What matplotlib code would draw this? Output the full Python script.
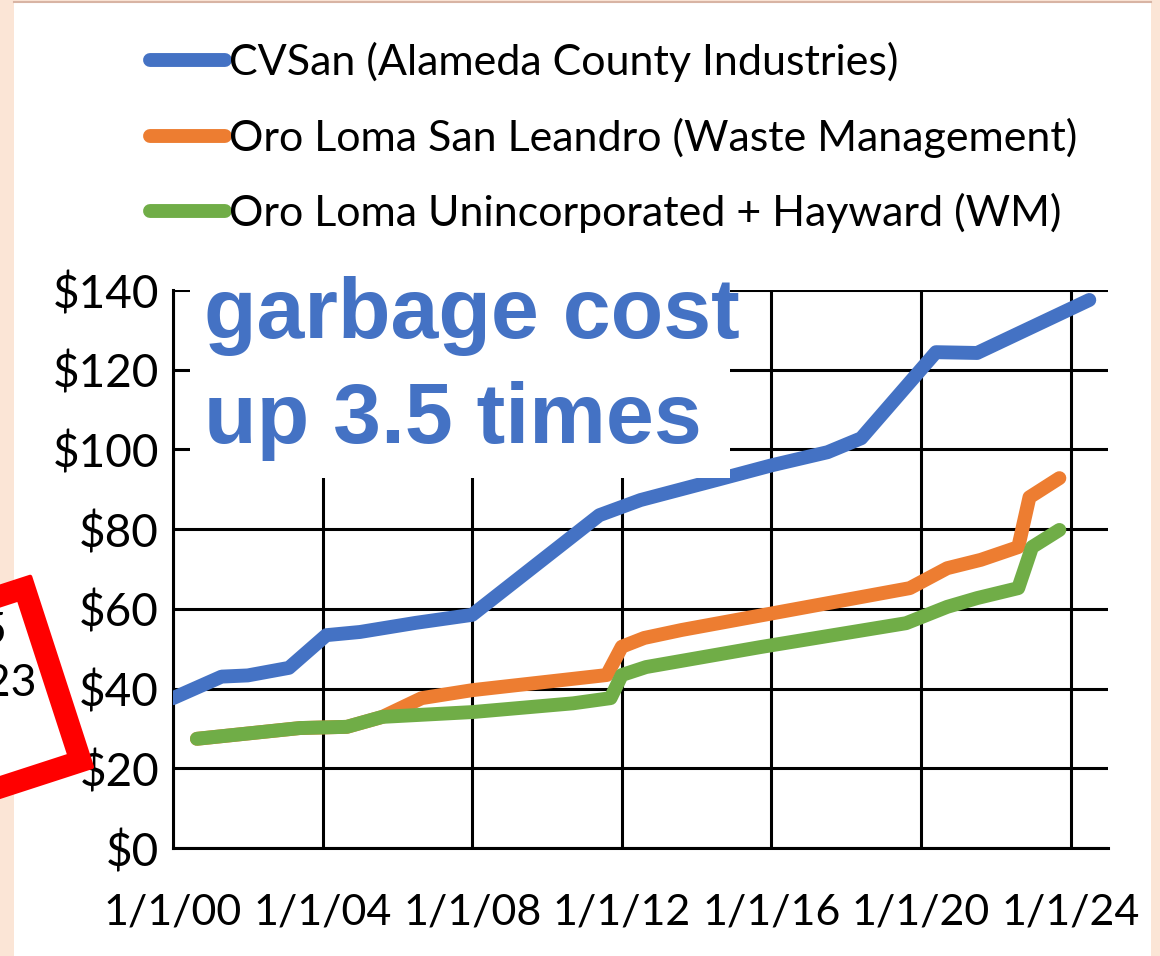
import numpy as np
import matplotlib
matplotlib.use("Agg")
import matplotlib.pyplot as plt
from matplotlib.patches import Rectangle, Polygon
from matplotlib.lines import Line2D

# data (decimal years)
cvsan_x = [2000.0, 2001.3, 2002.0, 2003.1, 2004.1, 2005.0, 2006.5, 2008.0, 2011.4,
           2012.5, 2014.6, 2016.0, 2017.5, 2018.4, 2020.4, 2021.5, 2024.5]
cvsan_y = [37.6, 43.0, 43.3, 45.2, 53.4, 54.2, 56.5, 58.5, 83.5,
           87.3, 92.5, 96.0, 99.3, 102.8, 124.4, 124.2, 137.5]

sl_x = [2000.64, 2003.4, 2004.65, 2005.6, 2006.65, 2008.0, 2011.6, 2012.0, 2012.6,
        2013.6, 2019.7, 2020.7, 2021.6, 2022.6, 2022.9, 2023.7]
sl_y = [27.4, 30.1, 30.4, 32.9, 37.6, 39.6, 43.4, 50.5, 52.7,
        54.7, 65.2, 70.2, 72.3, 75.5, 88.0, 92.8]

un_x = [2000.64, 2003.4, 2004.65, 2005.6, 2008.0, 2010.7, 2011.7, 2012.0, 2012.65,
        2015.7, 2019.6, 2020.7, 2021.5, 2022.6, 2022.97, 2023.7]
un_y = [27.4, 30.1, 30.4, 32.9, 34.1, 36.3, 37.6, 43.4, 45.4,
        50.4, 56.4, 60.5, 62.7, 65.2, 75.5, 79.8]

labels = ["CVSan (Alameda County Industries)",
          "Oro Loma San Leandro (Waste Management)",
          "Oro Loma Unincorporated + Hayward (WM)"]
colors = ["#4472C4", "#ED7D31", "#70AD47"]

xticks = [2000, 2004, 2008, 2012, 2016, 2020, 2024]
xticklabels = ["1/1/00", "1/1/04", "1/1/08", "1/1/12", "1/1/16", "1/1/20", "1/1/24"]
yticks = [0, 20, 40, 60, 80, 100, 120, 140]

W, H = 1160, 956
plt.rcParams['font.family'] = ['Lato', 'DejaVu Sans']

fig = plt.figure(figsize=(W / 100, H / 100), dpi=100)
fig.patch.set_facecolor("#FBE5D6")

def px(x, y):
    return (x / W, 1 - y / H)

# white page
fig.add_artist(Rectangle(px(14, 956), 1137 / W, 954 / H, transform=fig.transFigure,
                         facecolor="white", edgecolor="none", zorder=0))
fig.add_artist(Line2D([14 / W, 1151 / W], [1 - 1.5 / H, 1 - 1.5 / H], transform=fig.transFigure,
                      color="#D8B4A4", lw=1.5, zorder=1))

l, b = px(173, 848)
r, t = px(1108, 290)
ax = fig.add_axes([l, b, r - l, t - b])
ax.set_facecolor("none")

lw = 10
ax.plot(cvsan_x, cvsan_y, color=colors[0], lw=lw, solid_capstyle="round",
        solid_joinstyle="round", label=labels[0], zorder=3)
ax.plot(sl_x, sl_y, color=colors[1], lw=lw, solid_capstyle="round",
        solid_joinstyle="round", label=labels[1], zorder=3)
ax.plot(un_x, un_y, color=colors[2], lw=lw, solid_capstyle="round",
        solid_joinstyle="round", label=labels[2], zorder=4)

ax.set_xlim(2000, 2025)
ax.set_ylim(0, 140)
ax.set_xticks(xticks)
ax.set_xticklabels(xticklabels)
ax.set_yticks(yticks)
ax.set_yticklabels(["$%d" % v for v in yticks])
ax.grid(True, color="black", lw=2.2)
ax.set_axisbelow(True)
ax.tick_params(length=0)
ax.tick_params(axis="y", labelsize=33, pad=10)
ax.tick_params(axis="x", labelsize=31, pad=33)
for s in ["top", "right"]:
    ax.spines[s].set_visible(False)
for s in ["left", "bottom"]:
    ax.spines[s].set_linewidth(2.2)

# legend above the plot
fig.legend(loc="upper left", bbox_to_anchor=px(150, 42), frameon=False, fontsize=31,
           handlelength=1.75, handletextpad=0.08, labelspacing=0.82,
           borderpad=0, borderaxespad=0)

# white label box with the big blue note
fig.add_artist(Rectangle(px(190, 478), 540 / W, 200 / H, transform=fig.transFigure,
                         facecolor="white", edgecolor="none", zorder=5))
fig.text(204 / W, 1 - 276 / H, "garbage cost\nup 3.5 times", transform=fig.transFigure,
         ha="left", va="top", fontsize=62, fontweight="bold", color="#4472C4",
         family="Liberation Sans", linespacing=1.40, zorder=6)

# red tilted box sticking in from the left edge
ang = np.deg2rad(18)
u = np.array([np.sin(ang), np.cos(ang)])      # down along right side
v = np.array([-np.cos(ang), np.sin(ang)])     # left along bottom side
br = np.array([92.0, 767.0])
tr = br - 200 * u
outer = [tr, br, br + 320 * v, tr + 320 * v]
th = 20
inner = [tr + th * u + th * v, br - th * u + th * v,
         br - th * u + 300 * v, tr + th * u + 300 * v]
fig.add_artist(Polygon([px(*p) for p in outer], closed=True, transform=fig.transFigure,
                       facecolor="red", edgecolor="red", lw=3, joinstyle="round", zorder=7))
fig.add_artist(Polygon([px(*p) for p in inner], closed=True, transform=fig.transFigure,
                       facecolor="white", edgecolor="none", zorder=8))
fig.text(8 / W, 1 - 632 / H, "2/5", ha="right", va="center", fontsize=32,
         family="Lato", zorder=9)
fig.text(37 / W, 1 - 684 / H, "2023", ha="right", va="center", fontsize=32,
         family="Lato", zorder=9)

fig.savefig("out.png", dpi=100, facecolor=fig.get_facecolor())
